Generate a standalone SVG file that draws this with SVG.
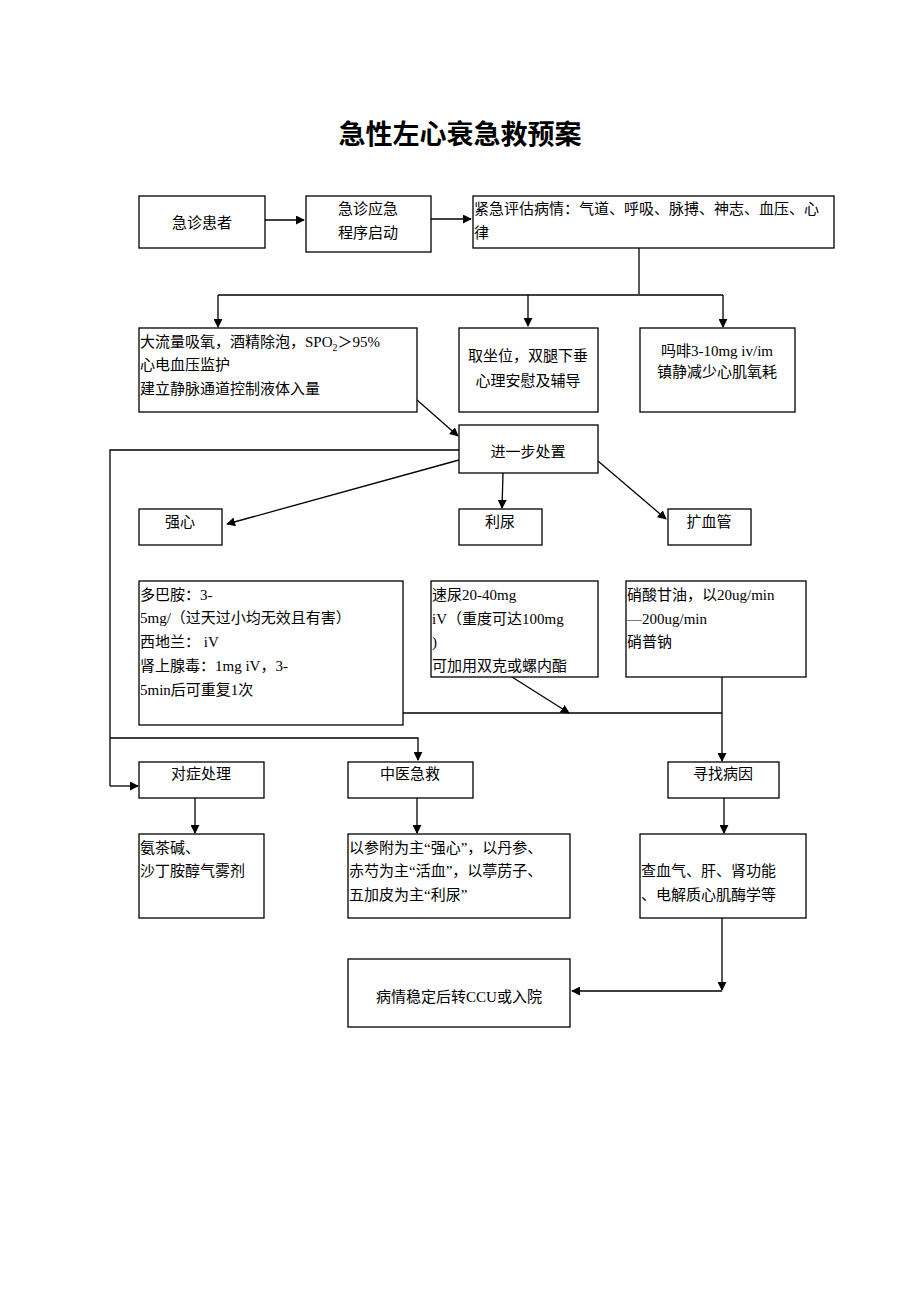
<svg xmlns="http://www.w3.org/2000/svg" width="920" height="1302" viewBox="0 0 920 1302">
<style>
.b{fill:#fff;stroke:#000;stroke-width:1.3}
.t{font-family:"Liberation Serif","Noto Sans CJK SC",serif;font-size:15px;fill:#000}
.c{text-anchor:middle}
.l{fill:none;stroke:#000;stroke-width:1.3}
.a{fill:none;stroke:#000;stroke-width:1.3;marker-end:url(#ah)}
</style>
<defs>
<marker id="ah" viewBox="0 0 10 10" refX="9" refY="5" markerWidth="9" markerHeight="9" markerUnits="userSpaceOnUse" orient="auto">
<path d="M0,0 L10,5 L0,10 z" fill="#000"/>
</marker>
</defs>
<rect width="920" height="1302" fill="#fff"/>
<text x="460" y="144" class="c" style="font-family:'Noto Sans CJK SC',sans-serif;font-size:27px;font-weight:bold">急性左心衰急救预案</text>

<g id="connectors">
<line class="a" x1="265" y1="220" x2="304" y2="220"/>
<line class="a" x1="431" y1="219" x2="471" y2="219"/>
<polyline class="l" points="639,248 639,294"/>
<line class="l" x1="218" y1="295" x2="723" y2="295"/>
<line class="a" x1="218" y1="295" x2="218" y2="327"/>
<line class="a" x1="528" y1="295" x2="528" y2="326"/>
<line class="a" x1="723" y1="295" x2="723" y2="327"/>
<line class="a" x1="417" y1="400" x2="458" y2="436"/>
<polyline class="l" points="459,450 110,450 110,786"/>
<line class="a" x1="110" y1="786" x2="138" y2="786"/>
<polyline class="a" points="110,738 418,738 418,760"/>
<line class="a" x1="459" y1="460" x2="227" y2="524"/>
<line class="a" x1="503" y1="473" x2="502" y2="508"/>
<line class="a" x1="598" y1="461" x2="666" y2="519"/>
<line class="l" x1="403" y1="713" x2="722" y2="713"/>
<line class="a" x1="512" y1="677" x2="569" y2="713"/>
<line class="a" x1="722" y1="677" x2="722" y2="761"/>
<line class="a" x1="195" y1="798" x2="195" y2="833"/>
<line class="a" x1="417" y1="798" x2="417" y2="833"/>
<line class="a" x1="724" y1="798" x2="724" y2="833"/>
<line class="a" x1="722" y1="918" x2="722" y2="990"/>
<line class="a" x1="722" y1="991" x2="572" y2="991"/>
</g>

<g id="n1"><rect class="b" x="139" y="196" width="126" height="52"/><text class="t c" x="202" y="228">急诊患者</text></g>
<g id="n2"><rect class="b" x="306" y="196" width="125" height="56"/><text class="t c" x="368" y="214">急诊应急</text><text class="t c" x="368" y="238">程序启动</text></g>
<g id="n3"><rect class="b" x="473" y="196" width="361" height="52"/><text class="t" x="474" y="214">紧急评估病情：气道、呼吸、脉搏、神志、血压、心</text><text class="t" x="474" y="238">律</text></g>
<g id="n4"><rect class="b" x="139" y="328" width="278" height="84"/><text class="t" x="140" y="347">大流量吸氧，酒精除泡，SPO<tspan font-size="10" dy="4">2</tspan><tspan dy="-4">＞95%</tspan></text><text class="t" x="140" y="370">心电血压监护</text><text class="t" x="140" y="394">建立静脉通道控制液体入量</text></g>
<g id="n5"><rect class="b" x="459" y="328" width="139" height="84"/><text class="t c" x="528" y="361">取坐位，双腿下垂</text><text class="t c" x="528" y="386">心理安慰及辅导</text></g>
<g id="n6"><rect class="b" x="640" y="328" width="155" height="84"/><text class="t c" x="717" y="356">吗啡3-10mg iv/im</text><text class="t c" x="717" y="377">镇静减少心肌氧耗</text></g>
<g id="n7"><rect class="b" x="459" y="425" width="139" height="48"/><text class="t c" x="528" y="457">进一步处置</text></g>
<g id="n8"><rect class="b" x="139" y="509" width="83" height="36"/><text class="t c" x="180" y="527">强心</text></g>
<g id="n9"><rect class="b" x="459" y="509" width="83" height="36"/><text class="t c" x="500" y="527">利尿</text></g>
<g id="n10"><rect class="b" x="668" y="509" width="83" height="36"/><text class="t c" x="709" y="527">扩血管</text></g>
<g id="n11"><rect class="b" x="139" y="581" width="264" height="144"/>
<text class="t" x="140" y="600">多巴胺：3-</text><text class="t" x="140" y="623">5mg/（过天过小均无效且有害）</text><text class="t" x="140" y="647">西地兰： iV</text><text class="t" x="140" y="671">肾上腺毒：1mg iV，3-</text><text class="t" x="140" y="695">5min后可重复1次</text></g>
<g id="n12"><rect class="b" x="431" y="581" width="167" height="96"/>
<text class="t" x="432" y="600">速尿20-40mg</text><text class="t" x="432" y="624">iV（重度可达100mg</text><text class="t" x="432" y="647">)</text><text class="t" x="432" y="671">可加用双克或螺内酯</text></g>
<g id="n13"><rect class="b" x="626" y="581" width="180" height="96"/>
<text class="t" x="627" y="600">硝酸甘油，以20ug/min</text><text class="t" x="627" y="624">—200ug/min</text><text class="t" x="627" y="647">硝普钠</text></g>
<g id="n14"><rect class="b" x="139" y="762" width="125" height="36"/><text class="t c" x="201" y="779">对症处理</text></g>
<g id="n15"><rect class="b" x="348" y="762" width="125" height="36"/><text class="t c" x="410" y="779">中医急救</text></g>
<g id="n16"><rect class="b" x="668" y="762" width="111" height="36"/><text class="t c" x="723" y="779">寻找病因</text></g>
<g id="n17"><rect class="b" x="139" y="834" width="125" height="84"/><text class="t" x="140" y="853">氨茶碱、</text><text class="t" x="140" y="876">沙丁胺醇气雾剂</text></g>
<g id="n18"><rect class="b" x="348" y="834" width="222" height="84"/><text class="t" x="349" y="853">以参附为主“强心”，以丹参、</text><text class="t" x="349" y="876">赤芍为主“活血”，以葶苈子、</text><text class="t" x="349" y="900">五加皮为主“利尿”</text></g>
<g id="n19"><rect class="b" x="640" y="834" width="166" height="84"/><text class="t" x="641" y="876">查血气、肝、肾功能</text><text class="t" x="641" y="900">、电解质心肌酶学等</text></g>
<g id="n20"><rect class="b" x="348" y="959" width="222" height="68"/><text class="t c" x="459" y="1002">病情稳定后转CCU或入院</text></g>
</svg>
